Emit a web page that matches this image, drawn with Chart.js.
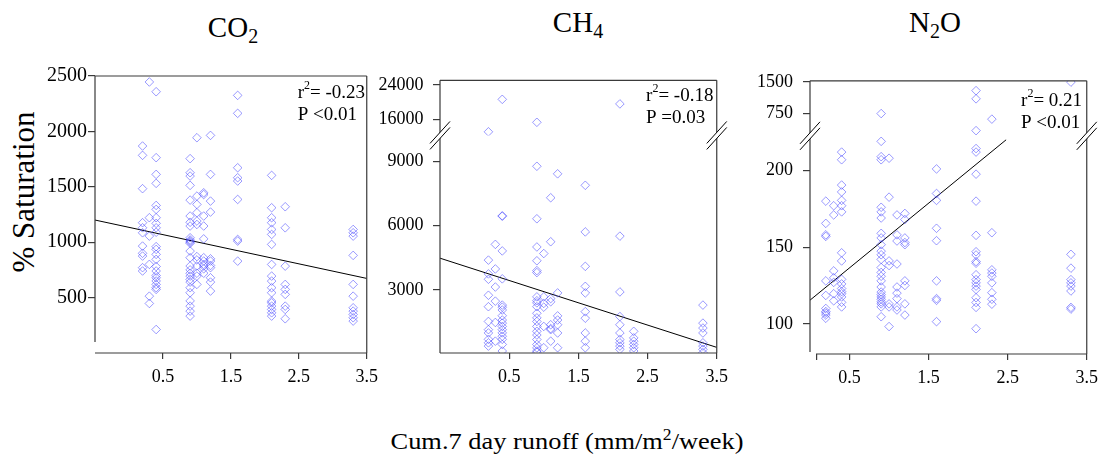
<!DOCTYPE html>
<html>
<head>
<meta charset="utf-8">
<script src="https://cdn.jsdelivr.net/npm/chart.js@4.4.1/dist/chart.umd.min.js"></script>
<style>
    body { margin: 0; background: #fff; }
    #wrap { position: relative; width: 1105px; height: 462px; overflow: hidden;
            font-family: "Liberation Serif", "Times New Roman", serif; color: #000; }
    canvas { position: absolute; }
    .title { position: absolute; font-size: 29px; line-height: 1; white-space: nowrap; text-align: center; width: 120px; }
    .title sub { font-size: 20px; vertical-align: -6px; line-height: 0; }
    #ytitle { position: absolute; left: 23px; top: 192px; font-size: 31px; line-height: 1; white-space: nowrap;
              font-family: "Liberation Serif", serif;
              transform: translate(-50%, -50%) rotate(-90deg); }
    #xtitle { position: absolute; left: 567px; top: 429px; font-size: 24px; line-height: 1; white-space: nowrap;
              transform: translateX(-50%) scaleX(1.1); }
    #xtitle sup { font-size: 16px; vertical-align: 9px; line-height: 0; }
</style>
</head>
<body>
<div id="wrap">
    <div class="title" style="left:173px; top:13px;">CO<sub>2</sub></div>
    <div class="title" style="left:518px; top:8px;">CH<sub>4</sub></div>
    <div class="title" style="left:875px; top:8px;">N<sub>2</sub>O</div>
    <div id="ytitle">% Saturation</div>
    <div id="xtitle">Cum.7 day runoff (mm/m<sup>2</sup>/week)</div>

    <canvas id="chartco2" width="385" height="340" style="left:0px; top:60px;"></canvas>
    <canvas id="chartch4" width="365" height="340" style="left:370px; top:60px;"></canvas>
    <canvas id="chartn2o" width="365" height="340" style="left:740px; top:60px;"></canvas>
</div>

<script>
// 누적 7일 유출량 (x 값, 열별)
var runoff = [0.2, 0.3, 0.4, 0.9, 1.0, 1.1, 1.2, 1.6, 2.1, 2.3, 3.3];

// % saturation, 열별 값
var co2 = [
    [1868, 1784, 1483, 1176, 1130, 1085, 965, 900, 875, 770, 740],
    [2446, 1221, 1055, 800, 513, 447],
    [2358, 1763, 1612, 1531, 1332, 1296, 1221, 1170, 1130, 1090, 960, 935, 890, 845, 780, 740, 700, 679, 650, 619, 590, 574, 212],
    [1754, 1627, 1597, 1513, 1380, 1236, 1180, 1146, 1040, 1020, 1010, 1000, 990, 920, 860, 785, 750, 720, 694, 664, 640, 589, 544, 470, 423, 378, 333],
    [1943, 1416, 1341, 1266, 1191, 1160, 870, 840, 785, 720, 694, 619],
    [1446, 1430, 1236, 1146, 1030, 860, 830, 800, 785, 760, 720],
    [1964, 1612, 1371, 1272, 850, 830, 790, 770, 679, 640, 559],
    [2325, 2163, 1672, 1582, 1552, 1386, 1025, 1010, 829],
    [1603, 1311, 1221, 1176, 1115, 1070, 980, 799, 694, 649, 589, 544, 468, 453, 423, 393, 363, 333],
    [1320, 1130, 784, 619, 574, 529, 423, 393, 309],
    [1115, 1085, 1055, 881, 619, 513, 408, 378, 348, 318, 288]
];

var ch4 = [
    [13112, 4393, 3750, 3500, 2755, 2220, 1532, 1150, 996, 700, 537, 384],
    [5127, 3980, 3138, 2480, 1486, 613],
    [20655, 6458, 6440, 4821, 3520, 2296, 2200, 2067, 1800, 1600, 1455, 1300, 1149, 1000, 843, 700, 460, 154],
    [15321, 8768, 6320, 5005, 4362, 3903, 3811, 2679, 2500, 2400, 2220, 1914, 1700, 1532, 1300, 1073, 900, 690, 460, 300, 154, 100],
    [4699, 2679, 2373, 2200, 1300, 307],
    [7300, 5249, 2600, 2450, 1379, 1200, 1149, 613],
    [8416, 2863, 1792, 1600, 1379, 996, 307],
    [7881, 5708, 4102, 3169, 2863, 1990, 1685, 996, 613, 307],
    [19589, 5510, 2909, 1761, 1379, 996, 690, 537, 384, 231],
    [1073, 766, 613, 460, 307, 154],
    [2296, 1455, 1226, 996, 537, 384, 231, 78]
];

var n2o = [
    [180, 165.5, 158, 157, 128, 118.5, 110, 108, 107, 105.7, 103.6],
    [177, 171, 134.5, 130, 127, 119.6, 115],
    [212, 207, 190.5, 186, 180.5, 177, 173, 146.3, 141, 129, 126, 123, 121, 119.6, 117.5, 114, 111],
    [742, 219, 209, 207, 176, 173, 169, 159, 156, 151.6, 147.4, 145, 142, 136.7, 133.5, 131, 128, 124, 120.7, 119, 117.5, 116, 114.3, 113, 111, 104.6],
    [208, 182.6, 141, 138, 113, 111, 98.2],
    [171, 158, 154, 139, 124, 120, 116.4, 111, 109],
    [172, 168, 156, 153, 151.6, 128, 125, 113, 105.7],
    [201, 185, 180.5, 162.3, 154.2, 128, 116.4, 115.3, 101.4],
    [1294, 1097, 331, 214.3, 212, 197.6, 180, 157.7, 147, 144.9, 140.6, 139.5, 132, 128.8, 126.7, 124.6, 122.4, 117, 113.9, 110.7, 96.8],
    [608, 159.4, 135.2, 133.1, 131, 126.7, 120.3, 116, 112.8],
    [1499, 145.3, 136.3, 128.8, 126.7, 124.6, 121.4, 110.7, 109.6]
];

// 회귀선 끝점
var co2FitX = [-0.5, 3.5];
var co2FitY = [1200, 673];
var ch4FitX = [-0.5, 3.5];
var ch4FitY = [4483, 324];
var n2oFitX = [0, 2.48];
var n2oFitY = [115.4, 220];

// 눈금
var xTicks = [0.5, 1.5, 2.5, 3.5];
var n2oXTicks = [0.08, 0.5, 1.5, 2.5, 3.5];
var co2Ticks = [500, 1000, 1500, 2000, 2500];
var ch4TicksLow = [3000, 6000, 9000];
var ch4TicksHigh = [16000, 24000];
var n2oTicksLow = [100, 150, 200];
var n2oTicksHigh = [750, 1500];

// 통계
var statR = ['-0.23', '-0.18', '0.21'];
var statP = ['<0.01', '=0.03', '<0.01'];

var SERIF = '"Liberation Serif", "Times New Roman", serif';
var AXIS_COLOR = '#3a3a3a';

function toPoints(cols, lo, hi) {
    var pts = [];
    for (var i = 0; i < cols.length; i++) {
        for (var val of cols[i]) {
            if (val >= lo && val < hi)
                pts.push({ x: runoff[i], y: val });
        }
    }
    return pts;
}

function fitPoints(xs, ys) {
    return xs.map(function (x, i) { return { x: x, y: ys[i] }; });
}

function fixedTicks(list) {
    return function (scale) {
        scale.ticks = list.map(function (v) { return { value: v }; });
    };
}

var framePlugin = {
    id: 'frame',
    afterDraw: function (chart) {
        var a = chart.chartArea, ctx = chart.ctx, p = chart.options.plugins.frame;
        ctx.save();
        ctx.strokeStyle = AXIS_COLOR;
        ctx.lineWidth = 1.2;
        ctx.beginPath();
        ctx.moveTo(a.left, a.top); ctx.lineTo(a.right, a.top);
        ctx.moveTo(a.right, a.top); ctx.lineTo(a.right, a.bottom);
        ctx.moveTo(a.left, a.top); ctx.lineTo(a.left, a.bottom - p.leftGap);
        ctx.moveTo(a.left + p.bottomGap, a.bottom); ctx.lineTo(a.right, a.bottom);
        ctx.stroke();
        ctx.restore();
    }
};

var breakPlugin = {
    id: 'brk',
    afterDraw: function (chart) {
        var y2 = chart.scales.y2;
        if (!y2) return;
        var ctx = chart.ctx, a = chart.chartArea, yb = y2.bottom;
        [a.left, a.right].forEach(function (x) {
            ctx.save();
            ctx.fillStyle = '#fff';
            ctx.beginPath();
            ctx.moveTo(x - 10, yb + 8); ctx.lineTo(x + 10, yb - 14);
            ctx.lineTo(x + 10, yb - 8); ctx.lineTo(x - 10, yb + 14);
            ctx.closePath();
            ctx.fill();
            ctx.strokeStyle = '#000';
            ctx.lineWidth = 1;
            ctx.beginPath();
            ctx.moveTo(x - 10, yb + 8); ctx.lineTo(x + 10, yb - 14);
            ctx.moveTo(x - 10, yb + 14); ctx.lineTo(x + 10, yb - 8);
            ctx.stroke();
            ctx.restore();
        });
    }
};

var statPlugin = {
    id: 'stat',
    afterDraw: function (chart) {
        var a = chart.chartArea, ctx = chart.ctx, s = chart.options.plugins.stat;
        var x = a.right - s.dx;
        ctx.save();
        ctx.fillStyle = '#000';
        ctx.textBaseline = 'alphabetic';
        ctx.textAlign = 'left';
        ctx.font = '19px ' + SERIF;
        ctx.fillText('r', x, a.top + s.y1);
        var w = ctx.measureText('r').width;
        ctx.font = '12px ' + SERIF;
        ctx.fillText('2', x + w, a.top + s.y1 - 9);
        var w2 = ctx.measureText('2').width;
        ctx.font = '19px ' + SERIF;
        ctx.fillText('= ' + s.r, x + w + w2, a.top + s.y1);
        ctx.fillText('P ' + s.p, x, a.top + s.y2);
        ctx.restore();
    }
};

function makePanel(id, p) {
    var pointStyle = {
        pointStyle: 'rectRot',
        pointRadius: 4.3,
        pointBorderWidth: 1,
        pointBorderColor: 'rgba(70, 70, 255, 0.55)',
        pointBackgroundColor: 'rgba(0, 0, 0, 0)',
        showLine: false
    };

    var datasets = [
        Object.assign({ label: 'low', data: toPoints(p.data, -Infinity, p.split), yAxisID: 'y' }, pointStyle),
        {
            label: 'fit',
            data: fitPoints(p.fitX, p.fitY),
            yAxisID: 'y',
            showLine: true,
            borderColor: '#000',
            borderWidth: 1,
            pointRadius: 0
        }
    ];

    var yTickOpts = {
        font: { family: SERIF, size: p.yFont },
        color: '#000',
        padding: p.yPad,
        autoSkip: false,
        callback: function (v) { return String(v); }
    };
    var yGrid = { display: true, drawOnChartArea: false, drawTicks: true, tickLength: 7, color: AXIS_COLOR, lineWidth: 1.2 };

    var scales = {
        x: {
            type: 'linear',
            min: p.xMin,
            max: 3.5,
            afterBuildTicks: fixedTicks(p.xTicks),
            afterFit: function (scale) { scale.height = p.xH; },
            border: { display: false },
            grid: { display: true, drawOnChartArea: false, drawTicks: true, tickLength: 6, color: AXIS_COLOR, lineWidth: 1.2 },
            ticks: {
                font: { family: SERIF, size: 18 },
                color: '#000',
                padding: 7,
                maxRotation: 0,
                autoSkip: false,
                callback: function (v) { return xTicks.indexOf(v) >= 0 ? String(v) : ''; }
            }
        },
        y: {
            type: 'linear',
            position: 'left',
            min: p.yMin,
            max: p.yMax,
            weight: 0,
            afterBuildTicks: fixedTicks(p.yTicks),
            afterFit: function (scale) { scale.width = p.yW; },
            border: { display: false },
            grid: yGrid,
            ticks: yTickOpts
        }
    };

    if (p.high) {
        scales.y.stack = 'brk';
        scales.y.stackWeight = p.high.lowWeight;
        scales.y2 = {
            type: 'linear',
            position: 'left',
            stack: 'brk',
            stackWeight: p.high.weight,
            weight: 1,
            min: p.high.min,
            max: p.high.max,
            afterBuildTicks: fixedTicks(p.high.ticks),
            afterFit: function (scale) { scale.width = p.yW; },
            border: { display: false },
            grid: yGrid,
            ticks: yTickOpts
        };
        datasets.push(Object.assign({ label: 'high', data: toPoints(p.data, p.split, Infinity), yAxisID: 'y2' }, pointStyle));
    }

    var chartArea = document.getElementById(id).getContext('2d');
    return new Chart(chartArea, {
        type: 'scatter',
        data: { datasets: datasets },
        options: {
            responsive: false,
            animation: false,
            devicePixelRatio: 1,
            layout: { padding: { top: 16, right: p.padR, left: 0, bottom: 0 } },
            scales: scales,
            plugins: {
                legend: { display: false },
                tooltip: { enabled: false },
                frame: p.frame,
                stat: p.stat
            }
        },
        plugins: [framePlugin, breakPlugin, statPlugin]
    });
}

var chartco2 = makePanel('chartco2', {
    data: co2, split: Infinity, fitX: co2FitX, fitY: co2FitY,
    xMin: -0.5, xTicks: xTicks, yMin: 0, yMax: 2500, yTicks: co2Ticks,
    yW: 95, xH: 47, padR: 13, yFont: 20, yPad: 1,
    frame: { leftGap: 11, bottomGap: 0 },
    stat: { dx: 69, y1: 22.3, y2: 44, r: statR[0], p: statP[0] }
});

var chartch4 = makePanel('chartch4', {
    data: ch4, split: 11000, fitX: ch4FitX, fitY: ch4FitY,
    xMin: -0.5, xTicks: xTicks, yMin: 62, yMax: 10206, yTicks: ch4TicksLow,
    high: { min: 12272, max: 25074, ticks: ch4TicksHigh, weight: 56, lowWeight: 221 },
    yW: 70, xH: 47, padR: 17, yFont: 18, yPad: 9.5,
    frame: { leftGap: 0, bottomGap: 0 },
    stat: { dx: 70.7, y1: 20.7, y2: 42.3, r: statR[1], p: statP[1] }
});

var chartn2o = makePanel('chartn2o', {
    data: n2o, split: 250, fitX: n2oFitX, fitY: n2oFitY,
    xMin: 0, xTicks: n2oXTicks, yMin: 80.3, yMax: 222.6, yTicks: n2oTicksLow,
    high: { min: 206, max: 1531, ticks: n2oTicksHigh, weight: 56, lowWeight: 222 },
    yW: 70, xH: 46, padR: 17, yFont: 18, yPad: 10,
    frame: { leftGap: 2, bottomGap: 6 },
    stat: { dx: 65.7, y1: 24.7, y2: 46.7, r: statR[2], p: statP[2] }
});
</script>
</body>
</html>
